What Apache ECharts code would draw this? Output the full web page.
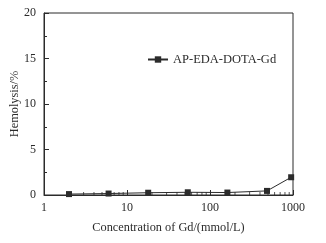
<!DOCTYPE html>
<html>
<head>
<meta charset="utf-8">
<script src="https://cdn.jsdelivr.net/npm/echarts@6/dist/echarts.min.js"></script>
<style>
  html, body { margin: 0; padding: 0; background: #fff; }
  #chart { width: 326px; height: 243px; }
</style>
</head>
<body>
<div id="chart"></div>
<script>
// concentration of Gd (mmol/L) and hemolysis (%)
const concentrations = [2, 6, 18, 54, 162, 486, 950]
const hemolysis = [0.1, 0.16, 0.25, 0.3, 0.27, 0.45, 1.95]
const seriesName = 'AP-EDA-DOTA-Gd'
// minor tick positions on the log x axis
const xMinorTicks = [2, 3, 4, 5, 6, 7, 8, 9, 20, 30, 40, 50, 60, 70, 80, 90, 200, 300, 400, 500, 600, 700, 800, 900]

const font = 'Liberation Serif, Times New Roman, serif'
const ink = '#2b2b2b'

const chart = echarts.init(document.getElementById('chart'))

chart.setOption({
  animation: false,
  textStyle: { fontFamily: font },
  grid: {
    left: 44,
    right: 33,
    top: 13,
    bottom: 48,
    containLabel: false,
    outerBoundsMode: 'none',
    show: true,
    borderColor: ink,
    borderWidth: 1,
  },
  legend: {
    left: 142,
    top: 48,
    itemWidth: 20,
    itemHeight: 8,
    itemGap: 4,
    textStyle: { fontFamily: font, fontSize: 12.5, color: ink },
    data: [seriesName],
  },
  xAxis: {
    type: 'log',
    logBase: 10,
    min: 1,
    max: 1000,
    name: 'Concentration of Gd/(mmol/L)',
    nameLocation: 'middle',
    nameGap: 27,
    nameMoveOverlap: false,
    nameTextStyle: { fontFamily: font, fontSize: 12.3, color: ink },
    axisLine: { lineStyle: { color: ink } },
    axisTick: { inside: true, length: 5, lineStyle: { color: ink } },
    axisLabel: { fontFamily: font, fontSize: 12, color: ink, margin: 7, formatter: v => String(v) },
    splitLine: { show: false },
  },
  yAxis: {
    type: 'value',
    min: 0,
    max: 20,
    interval: 5,
    name: 'Hemolysis/%',
    nameLocation: 'middle',
    nameGap: 23,
    nameMoveOverlap: false,
    nameTextStyle: { fontFamily: font, fontSize: 12.3, color: ink },
    axisLine: { show: true, lineStyle: { color: ink } },
    axisTick: { show: true, inside: true, length: 5, lineStyle: { color: ink } },
    minorTick: { show: true, splitNumber: 2, length: 3, lineStyle: { color: ink } },
    axisLabel: { fontFamily: font, fontSize: 12, color: ink, margin: 8 },
    splitLine: { show: false },
  },
  series: [
    {
      name: seriesName,
      type: 'line',
      data: concentrations.map((c, i) => [c, hemolysis[i]]),
      symbol: 'rect',
      symbolSize: 6,
      lineStyle: { color: ink, width: 1 },
      itemStyle: { color: ink },
      z: 3,
    },
    {
      // minor ticks for the log axis, drawn as thin marks on the baseline
      type: 'scatter',
      silent: true,
      data: xMinorTicks.map(v => [v, 0]),
      symbol: 'rect',
      symbolSize: [1, 3],
      symbolOffset: [0, -1.5],
      itemStyle: { color: ink },
      z: 2,
    },
  ],
})
</script>
</body>
</html>
